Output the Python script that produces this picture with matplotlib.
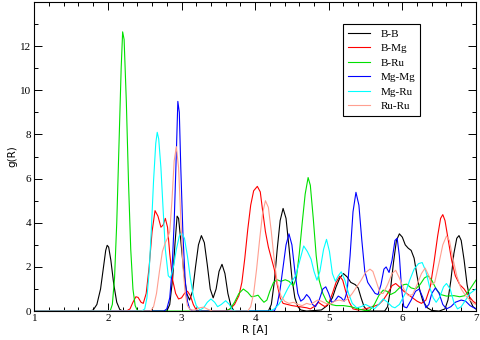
import matplotlib
matplotlib.use("Agg")
import matplotlib.pyplot as plt
from matplotlib.ticker import MultipleLocator

# g(R) partials (R in A, g)
bb_r = [1.0, 1.75, 1.8, 1.85, 1.9, 1.94, 1.97, 1.99, 2.01, 2.04, 2.08, 2.12, 2.16, 2.2,
        2.8, 2.84, 2.88, 2.91, 2.94, 2.96, 2.99, 3.03, 3.07, 3.11, 3.15, 3.19, 3.23, 3.27,
        3.31, 3.35, 3.39, 3.43, 3.47, 3.51, 3.55, 3.59, 3.63, 3.67, 3.71, 3.75,
        4.18, 4.22, 4.26, 4.3, 4.34, 4.38, 4.42, 4.46, 4.5, 4.54, 4.58, 4.62, 4.7,
        4.9, 4.98, 5.05, 5.1, 5.15, 5.2, 5.25, 5.3, 5.36, 5.4, 5.44, 5.48, 5.52, 5.56,
        5.76, 5.8, 5.84, 5.88, 5.92, 5.96, 6.0, 6.04, 6.08, 6.12, 6.16, 6.2, 6.24, 6.28,
        6.34, 6.4, 6.5, 6.58, 6.62, 6.66, 6.7, 6.74, 6.77, 6.8, 6.84, 6.88, 6.92, 6.96, 7.0]
bb_g = [0, 0, 0.05, 0.3, 1.0, 2.0, 2.75, 2.98, 2.9, 2.3, 1.2, 0.4, 0.08, 0,
        0, 0.3, 1.5, 3.0, 4.3, 4.2, 3.2, 1.8, 0.8, 0.5, 0.9, 2.0, 3.0, 3.42,
        3.1, 2.1, 1.0, 0.6, 1.0, 1.8, 2.12, 1.7, 0.8, 0.25, 0.02, 0,
        0, 0.3, 1.3, 2.8, 4.1, 4.65, 4.2, 2.9, 1.5, 0.6, 0.2, 0.05, 0,
        0.05, 0.25, 0.6, 1.1, 1.5, 1.7, 1.55, 1.3, 1.2, 1.05, 0.6, 0.2, 0.05, 0,
        0, 0.2, 1.0, 2.2, 3.2, 3.5, 3.35, 3.0, 2.85, 2.75, 2.4, 1.6, 0.9, 0.45,
        0.15, 0.03, 0, 0.1, 0.5, 1.4, 2.6, 3.3, 3.42, 3.2, 2.3, 1.2, 0.5, 0.2, 0.1]

bmg_r = [1.0, 2.25, 2.3, 2.34, 2.38, 2.41, 2.45, 2.48, 2.52, 2.56, 2.6, 2.64, 2.68, 2.72,
         2.75, 2.78, 2.81, 2.84, 2.88, 2.92, 2.96, 3.0, 3.04, 3.08, 3.12, 3.16, 3.2, 3.25,
         3.6, 3.66, 3.72, 3.78, 3.82, 3.86, 3.9, 3.94, 3.98, 4.03, 4.07, 4.1, 4.14, 4.18,
         4.22, 4.26, 4.3, 4.34, 4.38, 4.44, 4.5, 4.6, 4.7, 4.75, 4.8, 4.86, 4.9, 4.95,
         5.0, 5.05, 5.1, 5.15, 5.19, 5.23, 5.28, 5.33, 5.4, 5.5, 5.6, 5.68, 5.74, 5.8,
         5.86, 5.91, 5.96, 6.02, 6.08, 6.14, 6.2, 6.26, 6.32, 6.38, 6.43, 6.48, 6.52,
         6.55, 6.58, 6.62, 6.67, 6.72, 6.78, 6.84, 6.9, 6.96, 7.0]
bmg_g = [0, 0, 0.1, 0.4, 0.65, 0.62, 0.4, 0.35, 0.8, 2.0, 3.6, 4.55, 4.3, 3.8,
         3.9, 4.2, 3.8, 2.6, 1.4, 0.8, 0.55, 0.6, 0.8, 0.9, 0.7, 0.3, 0.05, 0,
         0, 0.1, 0.3, 0.7, 1.3, 2.4, 3.7, 4.8, 5.45, 5.65, 5.4, 4.6, 3.6, 2.9,
         2.4, 1.9, 1.2, 0.6, 0.35, 0.3, 0.25, 0.2, 0.15, 0.1, 0.2, 0.4, 0.3, 0.2,
         0.35, 0.8, 1.3, 1.58, 1.4, 0.9, 0.4, 0.1, 0.05, 0.1, 0.2, 0.3, 0.5, 0.8,
         1.15, 1.25, 1.1, 0.9, 0.75, 0.6, 0.45, 0.35, 0.5, 1.1, 2.2, 3.4, 4.2,
         4.37, 4.1, 3.3, 2.3, 1.6, 1.2, 1.0, 0.7, 0.45, 0.35]

bru_r = [1.0, 2.03, 2.06, 2.09, 2.12, 2.15, 2.18, 2.2, 2.22, 2.25, 2.28, 2.31, 2.34, 2.37,
         2.4, 2.45, 3.6, 3.66, 3.72, 3.78, 3.84, 3.9, 3.95, 4.0, 4.04, 4.08, 4.12, 4.16,
         4.2, 4.25, 4.3, 4.35, 4.41, 4.46, 4.52, 4.56, 4.6, 4.64, 4.68, 4.72, 4.75, 4.79,
         4.83, 4.87, 4.92, 4.97, 5.03, 5.1, 5.2, 5.3, 5.4, 5.5, 5.56, 5.62, 5.68, 5.74,
         5.79, 5.84, 5.9, 5.96, 6.02, 6.06, 6.12, 6.18, 6.24, 6.3, 6.35, 6.4, 6.46, 6.52,
         6.6, 6.7, 6.78, 6.85, 6.9, 6.95, 7.0]
bru_g = [0, 0, 0.3, 1.5, 4.0, 7.5, 11.0, 12.65, 12.3, 9.5, 5.8, 2.8, 1.0, 0.25,
         0.03, 0, 0, 0.1, 0.4, 0.8, 1.0, 0.85, 0.65, 0.68, 0.72, 0.55, 0.4, 0.5,
         0.9, 1.3, 1.42, 1.35, 1.42, 1.35, 1.15, 1.5, 2.6, 4.0, 5.3, 6.05, 5.7, 4.2,
         2.5, 1.4, 0.8, 0.45, 0.3, 0.25, 0.25, 0.2, 0.1, 0.02, 0.05, 0.3, 0.7, 0.95,
         0.9, 0.75, 0.85, 1.05, 1.2, 1.22, 1.05, 1.0, 1.2, 1.5, 1.6, 1.4, 1.0, 0.75,
         0.68, 0.7, 0.65, 0.7, 0.9, 1.15, 1.4]

mgmg_r = [1.0, 2.76, 2.8, 2.84, 2.87, 2.9, 2.93, 2.95, 2.97, 2.99, 3.02, 3.05, 3.08, 3.11,
          3.15, 4.26, 4.3, 4.34, 4.38, 4.42, 4.46, 4.5, 4.54, 4.58, 4.62, 4.66, 4.7, 4.74,
          4.78, 4.82, 4.87, 4.92, 4.96, 5.0, 5.04, 5.08, 5.13, 5.17, 5.21, 5.25, 5.29, 5.33,
          5.37, 5.41, 5.45, 5.49, 5.53, 5.58, 5.63, 5.67, 5.71, 5.75, 5.78, 5.82, 5.86, 5.9,
          5.93, 5.96, 5.99, 6.02, 6.06, 6.12, 6.18, 6.23, 6.28, 6.32, 6.36, 6.4, 6.45, 6.5,
          6.55, 6.6, 6.66, 6.72, 6.8, 6.86, 6.92, 7.0]
mgmg_g = [0, 0, 0.1, 0.6, 1.8, 4.0, 7.2, 9.5, 9.0, 6.5, 3.4, 1.4, 0.45, 0.1,
          0, 0, 0.3, 1.0, 2.0, 3.0, 3.5, 3.0, 1.8, 0.8, 0.45, 0.55, 0.75, 0.6,
          0.3, 0.2, 0.5, 1.0, 1.1, 0.8, 0.4, 0.45, 0.68, 0.6, 0.45, 0.9, 2.5, 4.5,
          5.38, 4.8, 3.2, 1.8, 1.3, 1.05, 0.8, 0.75, 1.2, 1.9, 2.0, 1.75, 2.3, 3.2,
          3.3, 2.5, 1.0, 0.2, 0.15, 0.5, 0.9, 1.0, 0.6, 0.15, 0.3, 0.8, 1.05, 0.8,
          0.3, 0.1, 0.2, 0.4, 0.5, 0.45, 0.25, 0.1]

mgru_r = [1.0, 2.46, 2.5, 2.53, 2.56, 2.59, 2.62, 2.65, 2.67, 2.69, 2.72, 2.75, 2.78, 2.82,
          2.85, 2.89, 2.93, 2.97, 3.0, 3.04, 3.08, 3.12, 3.16, 3.2, 3.25, 3.3, 3.35, 3.4,
          3.45, 3.49, 3.54, 3.6, 3.65, 3.69, 3.75, 4.2, 4.26, 4.32, 4.38, 4.44, 4.5, 4.55,
          4.6, 4.66, 4.71, 4.76, 4.8, 4.84, 4.88, 4.93, 4.97, 5.01, 5.05, 5.09, 5.13, 5.17,
          5.22, 5.27, 5.32, 5.38, 5.44, 5.5, 5.56, 5.62, 5.68, 5.74, 5.8, 5.86, 5.9, 5.96,
          6.04, 6.1, 6.16, 6.22, 6.27, 6.32, 6.37, 6.42, 6.46, 6.51, 6.56, 6.6, 6.65, 6.7,
          6.75, 6.8, 6.86, 6.92, 7.0]
mgru_g = [0, 0, 0.1, 0.6, 1.8, 3.7, 5.9, 7.6, 8.1, 7.8, 6.5, 4.6, 2.8, 1.6,
          1.5, 2.0, 2.8, 3.4, 3.55, 3.3, 2.5, 1.5, 0.7, 0.25, 0.05, 0.15, 0.4, 0.55,
          0.4, 0.2, 0.3, 0.47, 0.3, 0.05, 0, 0, 0.1, 0.3, 0.6, 1.0, 1.35, 1.6,
          2.2, 2.95, 2.7, 2.35, 1.8, 1.4, 1.8, 2.8, 3.25, 2.7, 1.7, 1.35, 1.6, 1.78,
          1.4, 0.8, 0.35, 0.15, 0.2, 0.3, 0.2, 0.1, 0.3, 0.55, 0.4, 0.2, 0.15, 0.3,
          0.8, 1.4, 1.9, 2.15, 2.2, 1.8, 1.1, 0.6, 0.4, 0.65, 1.1, 1.25, 1.0, 0.4,
          0.1, 0.2, 0.5, 0.8, 1.0]

ruru_r = [1.0, 2.58, 2.62, 2.66, 2.7, 2.74, 2.78, 2.81, 2.84, 2.87, 2.9, 2.93, 2.96, 2.99,
          3.02, 3.05, 3.08, 3.12, 3.18, 3.25, 3.3, 3.36, 3.42, 3.9, 3.94, 3.98, 4.02, 4.06,
          4.1, 4.14, 4.18, 4.22, 4.26, 4.3, 4.35, 4.4, 4.46, 4.52, 4.58, 4.64, 4.7, 4.75,
          4.8, 4.85, 4.9, 4.96, 5.02, 5.08, 5.14, 5.2, 5.26, 5.32, 5.38, 5.44, 5.5, 5.56,
          5.6, 5.65, 5.7, 5.74, 5.8, 5.86, 5.91, 5.96, 6.02, 6.08, 6.14, 6.2, 6.26, 6.31,
          6.36, 6.4, 6.44, 6.5, 6.55, 6.6, 6.64, 6.68, 6.74, 6.8, 6.86, 6.92, 6.97, 7.0]
ruru_g = [0, 0, 0.2, 0.8, 1.8, 2.7, 3.1, 3.3, 3.6, 5.0, 6.8, 7.45, 6.5, 4.2,
          2.0, 0.8, 0.25, 0.05, 0.05, 0.15, 0.18, 0.08, 0, 0, 0.2, 0.8, 1.9, 3.2,
          4.4, 5.0, 4.7, 3.6, 2.3, 1.3, 0.7, 0.45, 0.35, 0.4, 0.3, 0.25, 0.35, 0.3,
          0.4, 0.5, 0.45, 0.35, 0.3, 0.45, 0.5, 0.45, 0.55, 0.8, 1.1, 1.4, 1.75, 1.9,
          1.8, 1.3, 0.8, 0.8, 1.2, 1.7, 1.85, 1.5, 1.0, 0.7, 0.75, 1.2, 1.7, 1.95,
          1.6, 1.2, 1.3, 2.2, 3.0, 3.4, 3.2, 2.5, 1.6, 1.0, 0.7, 0.5, 0.35, 0.3]

pairs = ["B-B", "B-Mg", "B-Ru", "Mg-Mg", "Mg-Ru", "Ru-Ru"]
colors = ["#000000", "#ff0000", "#00e000", "#0000ff", "#00ffff", "#ff9f90"]
series = [(bb_r, bb_g), (bmg_r, bmg_g), (bru_r, bru_g),
          (mgmg_r, mgmg_g), (mgru_r, mgru_g), (ruru_r, ruru_g)]

fig = plt.figure(figsize=(4.8, 3.4), dpi=100)
ax = fig.add_axes([0.0715, 0.085, 0.92, 0.909])

for (r, g), name, c in zip(series, pairs, colors):
    ax.plot(r, g, color=c, lw=0.8, label=name)

ax.set_xlim(1, 7)
ax.set_ylim(0, 14)
ax.xaxis.set_major_locator(MultipleLocator(1))
ax.xaxis.set_minor_locator(MultipleLocator(0.2))
ax.yaxis.set_major_locator(MultipleLocator(2))
ax.yaxis.set_minor_locator(MultipleLocator(1))
ax.tick_params(which="both", direction="in", top=True, right=True, width=0.7,
               labelsize=8, pad=2)
ax.tick_params(which="major", length=5.5)
ax.tick_params(which="minor", length=3)
ax.set_yticks([0, 2, 4, 6, 8, 10, 12])
for lab in ax.get_xticklabels() + ax.get_yticklabels():
    lab.set_family("Liberation Serif")
for sp in ax.spines.values():
    sp.set_linewidth(0.8)

ax.set_xlabel("R [A]", fontsize=7.5, labelpad=1)
ax.set_ylabel("g(R)", fontsize=7.5, labelpad=2)

leg = ax.legend(loc="upper left", bbox_to_anchor=(0.699, 0.929), frameon=True,
                fancybox=False, edgecolor="black", framealpha=1,
                prop={"family": "Liberation Serif", "size": 8},
                handlelength=2.0, handletextpad=0.9, labelspacing=0.42,
                borderpad=0.45, borderaxespad=0)
leg.get_frame().set_linewidth(0.8)

fig.savefig("out.png", dpi=100)
